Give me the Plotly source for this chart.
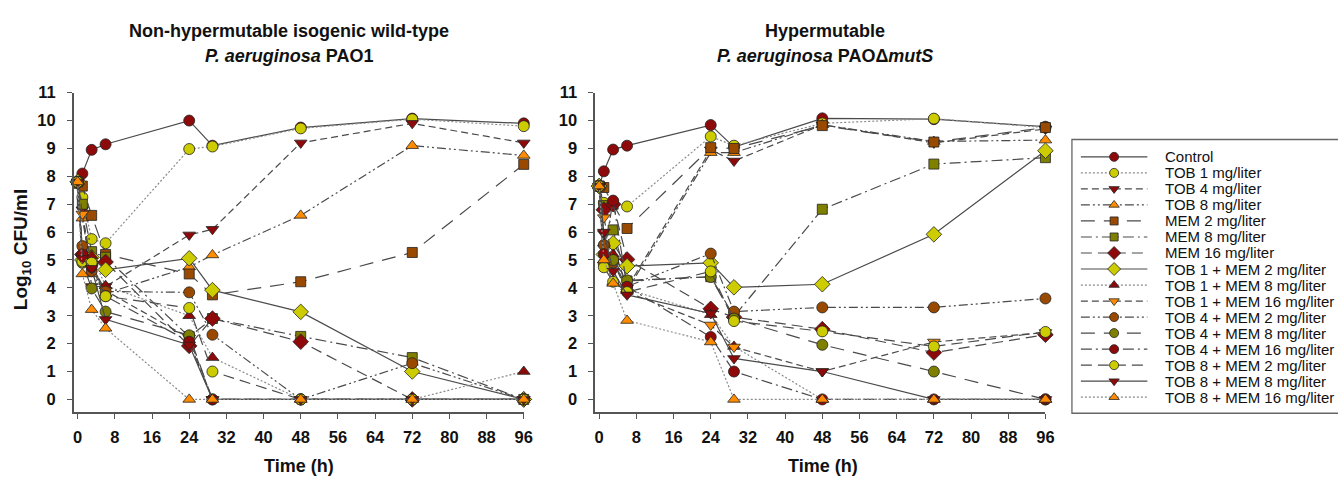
import plotly.graph_objects as go

W, H = 1338, 478

# ---------------- data ----------------
times = [0, 1, 3, 6, 24, 29, 48, 72, 96]

series_names = [
    "Control", "TOB 1 mg/liter", "TOB 4 mg/liter", "TOB 8 mg/liter",
    "MEM 2 mg/liter", "MEM 8 mg/liter", "MEM 16 mg/liter",
    "TOB 1 + MEM 2 mg/liter", "TOB 1 + MEM 8 mg/liter", "TOB 1 + MEM 16 mg/liter",
    "TOB 4 + MEM 2 mg/liter", "TOB 4 + MEM 8 mg/liter", "TOB 4 + MEM 16 mg/liter",
    "TOB 8 + MEM 2 mg/liter", "TOB 8 + MEM 8 mg/liter", "TOB 8 + MEM 16 mg/liter",
]

# Left panel: P. aeruginosa PAO1
control_L = [7.8, 8.1, 8.95, 9.15, 10.0, 9.1, 9.75, 10.07, 9.9]
tob1_L = [7.8, 7.25, 5.75, 5.6, 8.98, 9.07, 9.72, 10.05, 9.8]
tob4_L = [7.8, 6.8, 4.05, 4.05, 5.9, 6.1, 9.2, 9.9, 9.2]
tob8_L = [7.8, 6.5, 4.5, 3.8, 4.75, 5.18, 6.6, 9.1, 8.75]
mem2_L = [7.75, 7.65, 6.6, 5.2, 4.5, 3.75, 4.22, 5.27, 8.43]
mem8_L = [7.8, 7.0, 5.3, 5.1, 2.25, 2.9, 2.26, 1.5, 0]
mem16_L = [7.8, 5.2, 4.9, 4.93, 1.92, 2.9, 2.07, 0, 0]
t1m2_L = [7.8, 5.0, 5.1, 4.65, 5.06, 3.92, 3.14, 1.0, 0]
t1m8_L = [7.8, 5.25, 5.15, 4.08, 3.0, 1.5, 0, 0, 1.0]
t1m16_L = [7.8, 6.65, 4.8, 3.9, 2.2, 0, 0, 0, 0]
t4m2_L = [7.8, 5.5, 4.6, 3.87, 3.84, 2.32, 0, 1.3, 0]
t4m8_L = [7.8, 4.9, 3.98, 3.15, 2.3, 0, 0, 0, 0]
t4m16_L = [7.8, 5.2, 4.75, 3.7, 2.07, 0, 0, 0, 0]
t8m2_L = [7.8, 4.95, 4.9, 3.7, 3.28, 1.0, 0, 0, 0]
t8m8_L = [7.8, 5.05, 4.7, 2.87, 1.95, 0, 0, 0, 0]
t8m16_L = [7.8, 4.5, 3.22, 2.55, 0, 0, 0, 0, 0]

# Right panel: P. aeruginosa PAOdeltamutS
control_R = [7.65, 8.18, 8.96, 9.1, 9.84, 9.05, 10.08, 10.05, 9.78]
tob1_R = [7.65, 7.05, 7.0, 6.92, 9.43, 9.1, 9.9, 10.07, 9.75]
tob4_R = [7.65, 5.95, 5.5, 4.0, 8.95, 8.55, 9.85, 9.2, 9.7]
tob8_R = [7.65, 5.0, 4.2, 3.9, 8.85, 8.85, 9.85, 9.25, 9.3]
mem2_R = [7.65, 7.6, 7.0, 6.13, 9.03, 9.0, 9.82, 9.23, 9.75]
mem8_R = [7.65, 6.95, 6.08, 4.25, 4.4, 2.97, 6.82, 8.44, 8.67]
mem16_R = [7.65, 6.8, 7.0, 5.02, 3.25, 2.95, 2.52, 1.68, 2.32]
t1m2_R = [7.65, 5.2, 5.6, 4.78, 4.9, 4.02, 4.13, 5.92, 8.92]
t1m8_R = [7.65, 5.6, 5.2, 3.95, 3.04, 1.9, 0, 0, 0]
t1m16_R = [7.65, 6.52, 4.95, 3.85, 2.67, 1.88, 1.0, 2.06, 2.4]
t4m2_R = [7.65, 5.54, 4.9, 4.05, 5.23, 3.15, 3.3, 3.3, 3.62]
t4m8_R = [7.65, 4.85, 5.0, 4.27, 4.39, 2.9, 1.96, 1.0, 0]
t4m16_R = [7.65, 5.21, 7.13, 4.04, 2.24, 1.0, 0, 0, 0]
t8m2_R = [7.65, 4.74, 4.22, 3.85, 4.59, 2.81, 2.44, 1.9, 2.42]
t8m8_R = [7.65, 6.0, 4.6, 3.75, 3.08, 1.47, 1.0, 0, 0]
t8m16_R = [7.65, 5.0, 4.16, 2.83, 2.06, 0, 0, 0, 0]

left_data = [control_L, tob1_L, tob4_L, tob8_L, mem2_L, mem8_L, mem16_L,
             t1m2_L, t1m8_L, t1m16_L, t4m2_L, t4m8_L, t4m16_L, t8m2_L, t8m8_L, t8m16_L]
right_data = [control_R, tob1_R, tob4_R, tob8_R, mem2_R, mem8_R, mem16_R,
              t1m2_R, t1m8_R, t1m16_R, t4m2_R, t4m8_R, t4m16_R, t8m2_R, t8m8_R, t8m16_R]

x_ticks = [0, 8, 16, 24, 32, 40, 48, 56, 64, 72, 80, 88, 96]
y_ticks = list(range(0, 12))

# ---------------- styles ----------------
DR, YG, OR, BR, OL = "#8E0A0A", "#CCCC00", "#FF8C00", "#9A4A00", "#7F7F00"
SOLID = "solid"
DOT = "2px,2px"
DASH = "7px,4px"
DDD = "9px,3px,2px,3px,2px,3px"
LDASH = "14px,9px"
DASHDOT = "11px,4px,2px,4px"
MDASH = "11px,6px"

styles = [
    (DR, "circle", SOLID), (YG, "circle", DOT), (DR, "triangle-down", DASH),
    (OR, "triangle-up", DDD), (BR, "square", LDASH), (OL, "square", DASHDOT),
    (DR, "diamond", MDASH), (YG, "diamond", SOLID), (DR, "triangle-up", DOT),
    (OR, "triangle-down", DASH), (BR, "circle", DDD), (OL, "circle", LDASH),
    (DR, "circle", DASHDOT), (YG, "circle", MDASH), (DR, "triangle-down", SOLID),
    (OR, "triangle-up", DOT),
]
msize = {"circle": 11, "square": 10, "diamond": 12, "triangle-up": 11, "triangle-down": 11}


def lcol(dash):
    return "#8a8a8a" if dash == DOT else "#4a4a4a"


fig = go.Figure()

for axis_suffix, data in (("", left_data), ("2", right_data)):
    for name, vals, (col, sym, dash) in zip(series_names, data, styles):
        fig.add_trace(go.Scatter(
            x=times, y=vals, mode="lines+markers", name=name,
            xaxis="x" + axis_suffix, yaxis="y" + axis_suffix,
            line=dict(color=lcol(dash), width=1.2, dash=dash),
            marker=dict(color=col, symbol=sym, size=msize[sym],
                        line=dict(color="#222", width=0.8)),
            cliponaxis=False, showlegend=False,
        ))

# ---------------- manual legend ----------------
LX0, LX1, LY0, LY1 = 1079, 1338, 133, 412
row_y0, row_dy = 150.7, 16.33
for i, (name, (col, sym, dash)) in enumerate(zip(series_names, styles)):
    yy = row_y0 + i * row_dy
    fig.add_trace(go.Scatter(
        x=[1088, 1155], y=[yy, yy], mode="lines", xaxis="x3", yaxis="y3",
        line=dict(color=lcol(dash), width=1.2, dash=dash), showlegend=False,
        hoverinfo="skip"))
    fig.add_trace(go.Scatter(
        x=[1121.5], y=[yy], mode="markers", xaxis="x3", yaxis="y3",
        marker=dict(color=col, symbol=sym, size=msize[sym] - 2,
                    line=dict(color="#222", width=0.8)),
        showlegend=False, hoverinfo="skip", cliponaxis=False))
    fig.add_annotation(x=1171, y=yy, xref="x3", yref="y3", text=name,
                       showarrow=False, xanchor="left", yanchor="middle",
                       font=dict(family="Arial, Liberation Sans", size=15, color="#111"))


def px(x):
    return x / W


def py(y):
    return 1 - y / H


axis_common = dict(
    showgrid=False, zeroline=False, showline=True, linecolor="#555", linewidth=1.5,
    ticks="outside", ticklen=5, tickwidth=1.3, tickcolor="#555",
    tickfont=dict(family="Arial, Liberation Sans", size=16.5, color="#111", weight="bold"),
)

xr = [-0.85, 96]
yr = [-0.45, 11]
ydom = [py(410.7), py(85.3)]

fig.update_layout(
    width=W, height=H, margin=dict(l=0, r=0, t=0, b=0),
    paper_bgcolor="white", plot_bgcolor="white", showlegend=False,
    xaxis=dict(domain=[px(73.3), px(526.7)], range=xr, tickvals=x_ticks, anchor="y",
               ticklabelstandoff=4, **axis_common),
    yaxis=dict(domain=ydom, range=yr, tickvals=y_ticks, anchor="x",
               ticklabelstandoff=8, **axis_common),
    xaxis2=dict(domain=[px(598.7), px(1052.3)], range=xr, tickvals=x_ticks, anchor="y2",
                ticklabelstandoff=4, **axis_common),
    yaxis2=dict(domain=ydom, range=yr, tickvals=y_ticks, anchor="x2",
                ticklabelstandoff=8, **axis_common),
    xaxis3=dict(domain=[px(LX0), 1], range=[LX0, LX1], visible=False, anchor="y3"),
    yaxis3=dict(domain=[py(LY1), py(LY0)], range=[LY1, LY0], visible=False, anchor="x3"),
)

# legend frame
fig.add_shape(type="rect", xref="paper", yref="paper",
              x0=px(LX0), x1=px(LX1 + 20), y0=py(LY1), y1=py(LY0),
              line=dict(color="#666", width=1.3), fillcolor="rgba(0,0,0,0)")

tfont = dict(family="Arial, Liberation Sans", size=18, color="#111")
texts = [
    (290, 22, "<b>Non-hypermutable isogenic wild-type</b>"),
    (290, 48, "<b><i>P. aeruginosa</i> PAO1</b>"),
    (830, 22, "<b>Hypermutable</b>"),
    (830, 48, "<b><i>P. aeruginosa</i> PAOΔ<i>mutS</i></b>"),
    (300, 466, "<b>Time (h)</b>"),
    (828, 466, "<b>Time (h)</b>"),
]
for x, y, t in texts:
    fig.add_annotation(x=px(x), y=py(y), xref="paper", yref="paper", text=t,
                       showarrow=False, xanchor="center", yanchor="middle", font=tfont)

fig.add_annotation(x=px(22), y=py(245), xref="paper", yref="paper",
                   text="<b>Log<sub>10</sub> CFU/ml</b>", textangle=-90,
                   showarrow=False, xanchor="center", yanchor="middle",
                   font=dict(family="Arial, Liberation Sans", size=19, color="#111"))

fig.write_html("out.html")
